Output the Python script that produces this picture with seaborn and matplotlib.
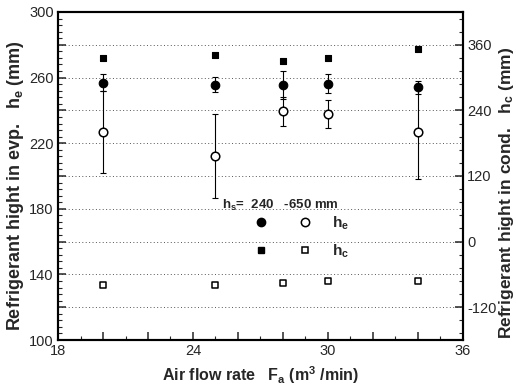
import matplotlib
matplotlib.use("Agg")
import matplotlib.pyplot as plt
import seaborn as sns
import pandas as pd
from matplotlib.ticker import MultipleLocator, FuncFormatter
from matplotlib.lines import Line2D

# ---- data ----
air_flow = [20, 25, 28, 30, 34]
he_full = [257.0, 255.7, 255.5, 256.3, 254.1]
he_full_err = [5.0, 4.5, 8.5, 5.8, 4.0]
he_empty = [227.0, 212.4, 239.4, 237.7, 227.0]
he_empty_err = [25.0, 25.6, 9.0, 8.6, 29.0]
hc_full = [336.6, 341.0, 331.0, 335.0, 352.0]
hc_empty = [-79.5, -79.5, -76.5, -71.5, -72.0]

sns.set_theme(style="ticks")
plt.rcParams['font.family'] = ['Liberation Sans', 'DejaVu Sans']
plt.rcParams['axes.unicode_minus'] = False
plt.rcParams['mathtext.fontset'] = 'custom'
plt.rcParams['mathtext.rm'] = 'Liberation Sans:bold'
plt.rcParams['mathtext.it'] = 'Liberation Sans:bold'
plt.rcParams['mathtext.bf'] = 'Liberation Sans:bold'

df = pd.DataFrame({"x": air_flow, "he_full": he_full, "he_empty": he_empty,
                   "hc_full": hc_full, "hc_empty": hc_empty})

fig = plt.figure(figsize=(5.16, 3.85), dpi=100)
ax = fig.add_axes([58/516, 1-340/385, (463-58)/516, (340-12)/385])
ax2 = ax.twinx()

# error bars (evaporator heights)
ax.errorbar(air_flow, he_full, yerr=he_full_err, fmt='none', ecolor='black',
            elinewidth=0.8, capsize=2.5, capthick=0.8, zorder=3)
ax.errorbar(air_flow, he_empty, yerr=he_empty_err, fmt='none', ecolor='black',
            elinewidth=0.8, capsize=2.5, capthick=0.8, zorder=3)

sns.scatterplot(data=df, x="x", y="he_full", ax=ax, marker='o', s=38,
                color='black', edgecolor='black', linewidth=0.8, zorder=4)
sns.scatterplot(data=df, x="x", y="he_empty", ax=ax, marker='o', s=38,
                facecolor='white', edgecolor='black', linewidth=1.1, zorder=4)
sns.scatterplot(data=df, x="x", y="hc_full", ax=ax2, marker='s', s=24,
                color='black', edgecolor='black', linewidth=0.8, zorder=4)
sns.scatterplot(data=df, x="x", y="hc_empty", ax=ax2, marker='s', s=24,
                facecolor='white', edgecolor='black', linewidth=1.1, zorder=4)

ax.set_xlim(18, 36)
ax.set_ylim(100, 300)
ax2.set_ylim(-180, 420)

ax.xaxis.set_major_locator(MultipleLocator(2))
ax.xaxis.set_minor_locator(MultipleLocator(1))
ax.xaxis.set_major_formatter(FuncFormatter(lambda v, p: f"{v:.0f}" if round(v) % 6 == 0 else ""))
ax.yaxis.set_major_locator(MultipleLocator(20))
ax.yaxis.set_minor_locator(MultipleLocator(4))
ax.yaxis.set_major_formatter(FuncFormatter(lambda v, p: f"{v:.0f}" if round(v) % 40 == 20 else ""))
ax2.yaxis.set_major_locator(MultipleLocator(120))
ax2.yaxis.set_minor_locator(MultipleLocator(24))

ax.grid(axis='y', which='major', linestyle=(0, (1, 2.5)), color='#555555', linewidth=0.7)
ax.grid(axis='x', visible=False)

for a in (ax, ax2):
    a.tick_params(which='major', direction='in', length=6, width=1.1, labelsize=10.5, pad=3)
    a.tick_params(which='minor', direction='in', length=3, width=0.8)
    for s in a.spines.values():
        s.set_linewidth(1.5)
        s.set_color('black')
ax.tick_params(axis='y', which='both', right=False)
ax2.tick_params(axis='y', which='both', left=False)

ax.set_xlabel("Air flow rate   F$_a$ (m$^3$ /min)", fontsize=11.5, fontweight='bold')
ax.set_ylabel("Refrigerant hight in evp.   h$_e$ (mm)", fontsize=13, fontweight='bold')
ax2.set_ylabel("Refrigerant hight in cond.   h$_c$ (mm)", fontsize=12.5, fontweight='bold')
ax.xaxis.set_label_coords(0.5, -0.074)
ax.yaxis.set_label_coords(-0.08, 0.47)
ax2.yaxis.set_label_coords(1.085, 0.45)

# legend
ax.text(0.405, 0.409, "h$_s$=  240   -650 mm", transform=ax.transAxes,
        fontsize=9.5, fontweight='bold', ha='left', va='center')
handles = [
    Line2D([], [], marker='o', color='black', linestyle='none', markersize=6),
    Line2D([], [], marker='s', color='black', linestyle='none', markersize=5),
    Line2D([], [], marker='o', markerfacecolor='white', markeredgecolor='black',
           markeredgewidth=1.1, linestyle='none', markersize=6),
    Line2D([], [], marker='s', markerfacecolor='white', markeredgecolor='black',
           markeredgewidth=1.1, linestyle='none', markersize=5),
]
labels = ['h$_e$', 'h$_c$', 'h$_e$', 'h$_c$']
leg = ax2.legend(handles, labels, ncol=2, frameon=False,
                 prop={'weight': 'bold', 'size': 11},
                 loc='center left', bbox_to_anchor=(0.484, 0.314),
                 handlelength=0.5, handletextpad=1.5, columnspacing=-0.2,
                 labelspacing=0.7, borderpad=0.2, borderaxespad=0)
for t in leg.get_texts()[:2]:
    t.set_alpha(0)

fig.savefig("out.png", dpi=100)
